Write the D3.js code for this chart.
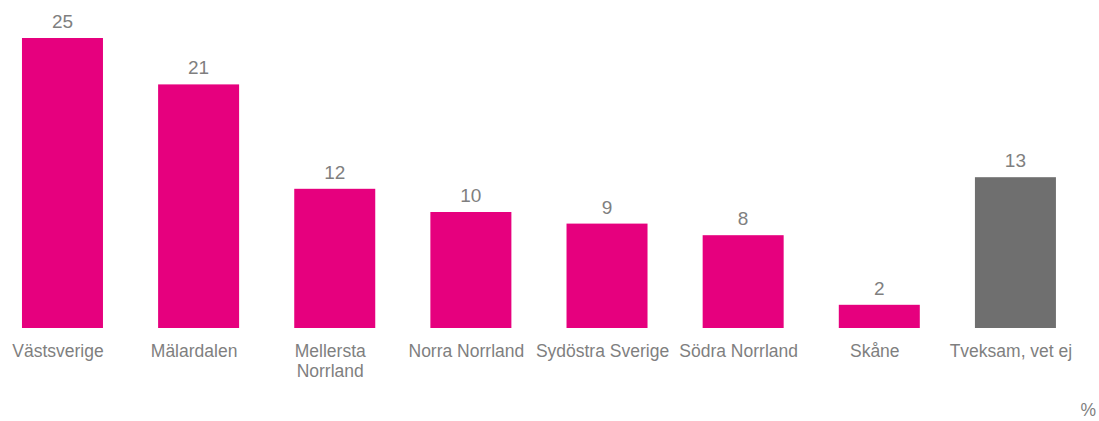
<!DOCTYPE html>
<html>
<head>
<meta charset="utf-8">
<script src="https://cdn.jsdelivr.net/npm/d3@7"></script>
<style>
  body { margin: 0; background: #fff; }
  text { font-family: "Liberation Sans", Arial, sans-serif; fill: #7f7f7f; }
</style>
</head>
<body>
<div id="chart"></div>
<script>
var regions = ["Västsverige", "Mälardalen", "Mellersta Norrland", "Norra Norrland",
               "Sydöstra Sverige", "Södra Norrland", "Skåne", "Tveksam, vet ej"];
var tickLabels = [["Västsverige"], ["Mälardalen"], ["Mellersta", "Norrland"], ["Norra Norrland"],
                  ["Sydöstra Sverige"], ["Södra Norrland"], ["Skåne"], ["Tveksam, vet ej"]];
var values = [25, 21, 12, 10, 9, 8, 2, 13];
var unitLabel = "%";

var width = 1099, height = 421;

var svg = d3.select("#chart")
  .append("svg")
  .attr("width", width)
  .attr("height", height);

var xScale = d3.scaleBand()
  .domain(regions)
  .range([-5.6, 1083.5])
  .paddingInner(0.405)
  .paddingOuter(0.2025);

var yScale = d3.scaleLinear()
  .domain([0, 25])
  .range([328, 38]);

// bars
svg.append("g")
  .selectAll("rect")
  .data(values)
  .enter()
  .append("rect")
    .attr("x", function (d, i) { return xScale(regions[i]); })
    .attr("y", function (d) { return yScale(d); })
    .attr("width", xScale.bandwidth())
    .attr("height", function (d) { return yScale(0) - yScale(d); })
    .style("fill", function (d, i) { return i == regions.length - 1 ? "#6f6f6f" : "#e6007e"; });

// value labels
svg.append("g")
  .selectAll("text")
  .data(values)
  .enter()
  .append("text")
    .attr("x", function (d, i) { return xScale(regions[i]) + xScale.bandwidth() / 2; })
    .attr("y", function (d) { return yScale(d) - 10; })
    .attr("text-anchor", "middle")
    .style("font-size", "19px")
    .text(function (d) { return d; });

// category labels
var cats = svg.append("g")
  .selectAll("text")
  .data(regions)
  .enter()
  .append("text")
    .attr("x", function (d) { return xScale(d) + xScale.bandwidth() / 2 - 4.5; })
    .attr("y", 357)
    .attr("text-anchor", "middle")
    .style("font-size", "17.5px");

cats.selectAll("tspan")
  .data(function (d, i) { return tickLabels[i]; })
  .enter()
  .append("tspan")
    .attr("x", function () { return d3.select(this.parentNode).attr("x"); })
    .attr("dy", function (d, j) { return j == 0 ? 0 : 20; })
    .text(function (d) { return d; });

svg.append("text")
  .attr("x", 1096)
  .attr("y", 416)
  .attr("text-anchor", "end")
  .style("font-size", "17.5px")
  .text(unitLabel);
</script>
</body>
</html>
